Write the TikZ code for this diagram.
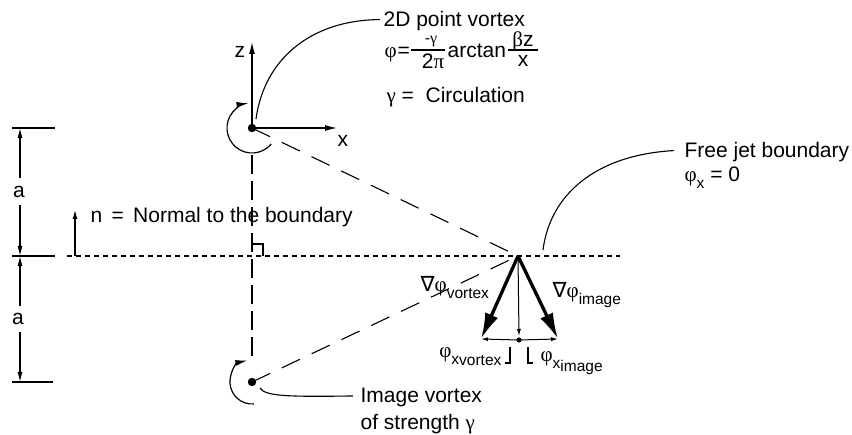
\documentclass[tikz,border=0pt]{standalone}
\usepackage{fontspec}
\setmainfont{Liberation Sans}
\newfontfamily\gkfont{Liberation Serif}
\newfontfamily\symfont{DejaVu Sans}
\newcommand{\gk}[1]{{\gkfont #1}}
\newcommand{\lowsub}[1]{\raisebox{-0.3em}{\fontsize{15.5}{15.5}\selectfont #1}}
\usetikzlibrary{arrows.meta}
\begin{document}
\begin{tikzpicture}[x=1pt,y=-1pt,line width=1.2pt,
  txt/.style={inner sep=0pt,font=\fontsize{21}{24}\selectfont},
  smalltxt/.style={inner sep=0pt,font=\fontsize{16}{18}\selectfont},
  axistip/.style={-{Latex[length=12pt,width=6pt]}},
  dimtip/.style={-{Latex[length=10pt,width=5pt]}},
  bigarrow/.style={line width=3.3pt,-{Latex[length=26pt,width=14pt]}},
  smalltip/.style={line width=1pt,-{Latex[length=7pt,width=4pt]}},
  longdash/.style={dash pattern=on 20pt off 13pt},
  vdash/.style={dash pattern=on 19pt off 7pt},
  bdash/.style={line width=1.8pt,dash pattern=on 5pt off 4pt},
  thinline/.style={line width=1.1pt}]
\path[use as bounding box] (0,0) rectangle (852,435);

% key points
\coordinate (V1) at (252,128);
\coordinate (V2) at (252,382);
\coordinate (P) at (518,256);
\coordinate (Z) at (252,42);
\coordinate (X) at (337,128);
\coordinate (BL) at (67,256);
\coordinate (BR) at (620,256);
\coordinate (VD1) at (252,155);
\coordinate (VD2) at (252,360);
\coordinate (Q) at (519,340);
\coordinate (Qa) at (519,336);
\coordinate (GL) at (481,339);
\coordinate (GR) at (558,339);

% boundary
\draw[bdash] (BL) -- (BR);

% dimension lines
\coordinate (T1a) at (12,128); \coordinate (T1b) at (55,128);
\coordinate (T2a) at (12,256); \coordinate (T2b) at (55,256);
\coordinate (T3a) at (12,382); \coordinate (T3b) at (53,382);
\draw[thinline] (T1a) -- (T1b);
\draw[thinline] (T2a) -- (T2b);
\draw[thinline] (T3a) -- (T3b);
\node[txt,anchor=base] (a1) at (19,198) {a};
\node[txt,anchor=base] (a2) at (18,325) {a};
\coordinate (D1) at (20,128); \coordinate (D2) at (20,256); \coordinate (D3) at (20,382);
\coordinate (E1) at (20,178); \coordinate (E2) at (20,205);
\coordinate (E3) at (20,306); \coordinate (E4) at (20,332);
\draw[thinline,dimtip] (E1) -- (D1);
\draw[thinline,dimtip] (E2) -- (D2);
\draw[thinline,dimtip] (E3) -- (D2);
\draw[thinline,dimtip] (E4) -- (D3);

% normal arrow
\coordinate (N0) at (75,256); \coordinate (N1) at (75,210);
\draw[thinline,-{Latex[length=9pt,width=5pt]}] (N0) -- (N1);
\node[txt,anchor=base west] (ntext) at (90,223) {n \,=\, Normal to the boundary};

% vertical dashed line and right-angle mark
\draw[thinline,vdash] (VD1) -- (VD2);
\coordinate (R1) at (252,244); \coordinate (R2) at (263,244); \coordinate (R3) at (263,256);
\draw[thinline] (R1) -- (R2) -- (R3);

% diagonal dashed lines
\draw[thinline,longdash] (V1) -- (P);
\draw[thinline,longdash] (V2) -- (P);

% axes
\draw[axistip] (V1) -- (Z);
\draw[axistip] (V1) -- (X);
\node[txt,anchor=base west] (zlab) at (234,58) {z};
\node[txt,anchor=base west] (xlab) at (337,147) {x};

% vortices
\fill (V1) circle[radius=4.2];
\fill (V2) circle[radius=4.2];
\draw[axistip] (V1) ++(40:25) arc[start angle=40,end angle=262,radius=25];
\draw[axistip] (V2) ++(85:22) arc[start angle=85,end angle=258,radius=22];

% top labels
\node[txt,anchor=base west] (t2d) at (383,27) {2D point vortex};
\node[txt,anchor=base west] (phieq) at (384,58) {\gk{φ}\kern1pt=};
\node[smalltxt] (num1) at (431,42) {-\gk{γ}};
\node[txt] (den1) at (433,61) {2\gk{π}};
\coordinate (F1a) at (411,50); \coordinate (F1b) at (445,50);
\draw[thinline] (F1a) -- (F1b);
\node[txt,anchor=base west] (arct) at (447,58) {arctan};
\node[txt] (num2) at (523,41) {\gk{β}z};
\node[txt] (den2) at (523,61) {x};
\coordinate (F2a) at (508,50); \coordinate (F2b) at (538,50);
\draw[thinline] (F2a) -- (F2b);
\node[txt,anchor=base west] (circ) at (386,103) {\gk{γ} = \ Circulation};
\draw[thinline] (256,119) .. controls (264,60) and (310,20) .. ([xshift=-3pt,yshift=2pt]t2d.west);

% free jet
\node[txt,anchor=base west] (fj) at (684,158) {Free jet boundary};
\node[txt,anchor=base west] (fj2) at (684,182) {\gk{φ}\lowsub{x} = 0};
\draw[thinline] (543,250) .. controls (550,195) and (595,155) .. ([xshift=-10pt,yshift=2pt]fj.west);

% image vortex
\node[txt,anchor=base west] (iv) at (360,403) {Image vortex};
\node[txt,anchor=base west] (iv2) at (360,430) {of strength \gk{γ}};
\draw[thinline] (260,388) .. controls (265,396) and (285,397) .. ([xshift=-7pt,yshift=2pt]iv.west);

% gradient arrows
\draw[bigarrow] (P) -- (GL);
\draw[bigarrow] (P) -- (GR);
\draw[smalltip] (P) -- (Qa);
\fill (Q) circle[radius=2.6];
\draw[smalltip] (Q) -- (GL);
\draw[smalltip] (Q) -- (GR);

\node[txt,anchor=base west] (gv) at (420,292) {{\symfont ∇}\gk{φ}\lowsub{vortex}};
\node[txt,anchor=base west] (gi) at (552,298) {{\symfont ∇}\gk{φ}\lowsub{image}};

% component labels with brackets
\coordinate (B1) at (510,347); \coordinate (B2) at (510,363); \coordinate (B3) at (505,363);
\coordinate (C1) at (528,347); \coordinate (C2) at (528,363); \coordinate (C3) at (533,363);
\draw[thinline] (B1) -- (B2) -- (B3);
\draw[thinline] (C1) -- (C2) -- (C3);
\node[txt,anchor=base east] (pxv) at (502,358) {\gk{φ}\lowsub{x\raisebox{-0.1em}{vortex}}};
\node[txt,anchor=base west] (pxi) at (540,362) {\gk{φ}\lowsub{x\raisebox{-0.2em}{image}}};
\end{tikzpicture}
\end{document}
